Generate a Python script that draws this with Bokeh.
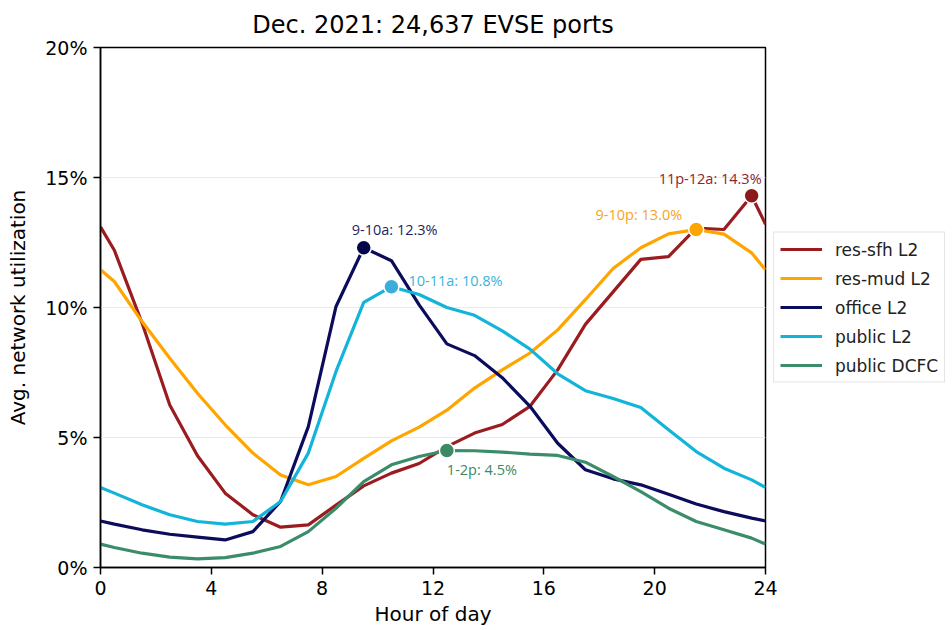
from bokeh.plotting import figure
from bokeh.models import (ColumnDataSource, FixedTicker, PrintfTickFormatter,
                          Legend, LegendItem, Range1d)
from bokeh.core.properties import value
from bokeh.embed import file_html
from bokeh.resources import INLINE

# ---------------- data ----------------
hours = [0, 0.5, 1.5, 2.5, 3.5, 4.5, 5.5, 6.5, 7.5, 8.5, 9.5, 10.5, 11.5, 12.5,
         13.5, 14.5, 15.5, 16.5, 17.5, 18.5, 19.5, 20.5, 21.5, 22.5, 23.5, 24]

res_sfh = [13.1, 12.2, 9.4, 6.25, 4.3, 2.86, 2.03, 1.55, 1.64, 2.4, 3.14, 3.63, 4.0,
           4.65, 5.17, 5.5, 6.2, 7.6, 9.35, 10.6, 11.85, 11.96, 13.05, 13.0, 14.3, 13.2]
res_mud = [11.45, 11.0, 9.46, 8.05, 6.7, 5.49, 4.4, 3.56, 3.18, 3.5, 4.2, 4.87, 5.4,
           6.05, 6.9, 7.6, 8.25, 9.14, 10.3, 11.5, 12.3, 12.83, 13.0, 12.82, 12.1, 11.45]
office = [1.79, 1.67, 1.45, 1.28, 1.17, 1.06, 1.38, 2.54, 5.42, 10.04, 12.3, 11.8, 10.1,
          8.6, 8.15, 7.3, 6.2, 4.78, 3.76, 3.41, 3.18, 2.82, 2.44, 2.15, 1.9, 1.79]
public_l2 = [3.08, 2.86, 2.41, 2.03, 1.77, 1.67, 1.77, 2.54, 4.4, 7.54, 10.2, 10.8, 10.5,
             10.0, 9.7, 9.1, 8.4, 7.45, 6.8, 6.5, 6.15, 5.3, 4.46, 3.82, 3.37, 3.08]
public_dcfc = [0.9, 0.77, 0.55, 0.4, 0.33, 0.38, 0.55, 0.81, 1.38, 2.28, 3.3, 3.95, 4.27,
               4.5, 4.49, 4.44, 4.36, 4.31, 4.05, 3.5, 2.92, 2.28, 1.77, 1.45, 1.13, 0.9]

series_names = ["res-sfh L2", "res-mud L2", "office L2", "public L2", "public DCFC"]
peak_labels = ["11p-12a: 14.3%", "9-10p: 13.0%", "9-10a: 12.3%", "10-11a: 10.8%", "1-2p: 4.5%"]
x_ticks = [0, 4, 8, 12, 16, 20, 24]
y_ticks = [0, 5, 10, 15, 20]

# ---------------- styles ----------------
line_colors = ["#9a1c20", "#ffa500", "#0c0c5c", "#12b4d9", "#3b8c6a"]
marker_colors = ["#8b1a1a", "#ffa500", "#06064a", "#3aaed8", "#3a8a64"]
text_colors = ["#8b2530", "#f5a41f", "#1f1f5f", "#3ab4dc", "#3a8a64"]
# (align, x_offset, y_offset)
label_pos = [("right", 10, -17),
             ("right", -14, -15),
             ("left", -12, -18),
             ("left", 17, -6),
             ("left", 0, 19)]

p = figure(frame_width=665, frame_height=520, output_backend="svg", toolbar_location=None,
           x_range=Range1d(0, 24), y_range=Range1d(0, 20),
           min_border_left=100, min_border_right=187, min_border_top=47,
           min_border_bottom=63, title="Dec. 2021: 24,637 EVSE ports")

p.title.align = "center"
p.title.text_font = "DejaVu Sans"
p.title.text_font_size = "24px"
p.title.text_font_style = "normal"
p.title.text_color = "black"
p.title.standoff = 17

p.background_fill_color = "white"
p.border_fill_color = "white"
p.outline_line_color = "black"
p.outline_line_width = 1.5
p.outline_line_alpha = 1

p.xgrid.visible = False
p.ygrid.grid_line_color = "#ebebeb"
p.ygrid.grid_line_width = 1.2
p.ygrid.ticker = FixedTicker(ticks=[5, 10, 15])

for ax in (p.xaxis[0], p.yaxis[0]):
    ax.axis_line_color = "black"
    ax.axis_line_width = 1.5
    ax.major_tick_line_color = "black"
    ax.major_tick_line_width = 1.5
    ax.major_tick_in = 0
    ax.major_tick_out = 7
    ax.minor_tick_line_color = None
    ax.major_label_text_font = "DejaVu Sans"
    ax.major_label_text_font_size = "19px"
    ax.major_label_text_color = "black"
    ax.axis_label_text_font = "DejaVu Sans"
    ax.axis_label_text_font_size = "20px"
    ax.axis_label_text_font_style = "normal"
    ax.axis_label_text_color = "black"

p.xaxis.ticker = FixedTicker(ticks=x_ticks)
p.yaxis.ticker = FixedTicker(ticks=y_ticks)
p.yaxis.formatter = PrintfTickFormatter(format="%d%%")
p.xaxis.axis_label = "Hour of day"
p.yaxis.axis_label = "Avg. network utilization"
p.xaxis.major_label_standoff = 6
p.yaxis.major_label_standoff = 6
p.xaxis.axis_label_standoff = 4
p.yaxis.axis_label_standoff = 12

all_series = [res_sfh, res_mud, office, public_l2, public_dcfc]
items = []
for i, ys in enumerate(all_series):
    src = ColumnDataSource(dict(x=hours, y=ys))
    r = p.line("x", "y", source=src, line_color=line_colors[i], line_width=3.2)
    items.append(LegendItem(label=series_names[i], renderers=[r]))

for i, ys in enumerate(all_series):
    k = ys.index(max(ys))
    src = ColumnDataSource(dict(x=[hours[k]], y=[ys[k]], t=[peak_labels[i]]))
    p.scatter("x", "y", source=src, size=15, fill_color=marker_colors[i],
              line_color="white", line_width=1.5)
    align, xo, yo = label_pos[i]
    p.text("x", "y", text="t", source=src, text_font=value("Open Sans"),
           text_font_size="14.5px", text_color=text_colors[i], text_align=align,
           text_baseline="middle", x_offset=xo, y_offset=yo)

legend = Legend(items=items, location="center_left")
legend.label_text_font = "DejaVu Sans"
legend.label_text_font_size = "17px"
legend.label_text_color = "#222222"
legend.glyph_width = 42
legend.glyph_height = 21
legend.label_height = 21
legend.label_standoff = 13
legend.spacing = 8
legend.padding = 6
legend.margin = 8
legend.border_line_color = "#cccccc"
legend.border_line_width = 1.5
legend.background_fill_color = "white"
legend.background_fill_alpha = 1
p.add_layout(legend, "right")

open("out.html", "w").write(file_html(p, INLINE))
